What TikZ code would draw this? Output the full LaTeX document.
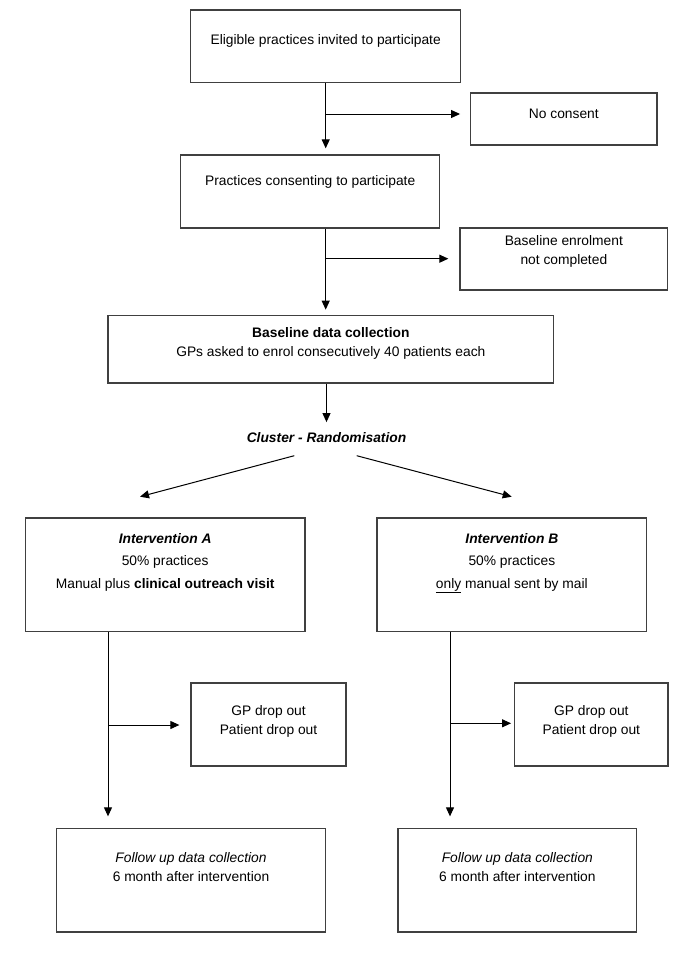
\documentclass[tikz,border=0pt]{standalone}
\usepackage{fontspec}
\setmainfont{Liberation Sans}
\usepackage{xcolor}
\usetikzlibrary{arrows.meta}
\definecolor{BoxLine}{rgb}{0.25, 0.25, 0.25}
\newcommand{\boxtext}[4]{\parbox[c][#2][t]{#1}{\centering\vspace*{#3}#4\par}}
\tikzset{
	flowbox/.style={draw=BoxLine, line width=1.3pt, inner sep=0pt},
	flowarrow/.style={-{Triangle[length=9pt, width=8pt]}, line width=1pt}
}

\begin{document}
\begin{tikzpicture}[x=1pt, y=-1pt, font=\fontsize{13.8}{19}\selectfont]
	\useasboundingbox (0,0) rectangle (685,969);
	\node[flowbox] (invite) at (325.7,46.35) {\boxtext{270pt}{72.7pt}{24pt}{Eligible practices invited to participate}};
	\node[flowbox] (noconsent) at (563.85,119) {\boxtext{186.3pt}{52pt}{16pt}{No consent}};
	\node[flowbox] (consent) at (310.2,191.5) {\boxtext{259pt}{73pt}{20pt}{Practices consenting to participate}};
	\node[flowbox] (notenrol) at (563.85,259) {\boxtext{207.7pt}{62pt}{7.7pt}{Baseline enrolment\\not completed}};
	\node[flowbox] (baseline) at (330.85,349.15) {\boxtext{445.7pt}{67.7pt}{12pt}{\textbf{Baseline data collection}\\GPs asked to enrol consecutively 40 patients each}};
	\node (cluster) at (326.5,437.7) {\textbf{\textit{Cluster - Randomisation}}};
	\node[flowbox] (intA) at (165.15,574.85) {\boxtext{279.7pt}{113.7pt}{15pt}{\textbf{\textit{Intervention A}}\\[3.5pt]50\% practices\\[3.5pt]Manual plus \textbf{clinical outreach visit}}};
	\node[flowbox] (intB) at (511.85,574.85) {\boxtext{269.7pt}{113.7pt}{15pt}{\textbf{\textit{Intervention B}}\\[3.5pt]50\% practices\\[3.5pt]\underline{only} manual sent by mail}};
	\node[flowbox] (dropA) at (268.5,724.5) {\boxtext{155pt}{83pt}{22pt}{GP drop out\\Patient drop out}};
	\node[flowbox] (dropB) at (591.35,724.5) {\boxtext{153.3pt}{83pt}{22pt}{GP drop out\\Patient drop out}};
	\node[flowbox] (followA) at (191,880.35) {\boxtext{269.4pt}{103.3pt}{24pt}{\textit{Follow up data collection}\\6 month after intervention}};
	\node[flowbox] (followB) at (517.35,880.35) {\boxtext{238.7pt}{103.3pt}{24pt}{\textit{Follow up data collection}\\6 month after intervention}};
	\coordinate (j1) at (325.7,114);
	\coordinate (j2) at (325.7,258.7);
	\coordinate (rndL) at (294.3,455.7);
	\coordinate (rndR) at (356.7,455.7);
	\coordinate (armA) at (140,496.7);
	\coordinate (armB) at (511.7,496.7);
	\coordinate (jA) at (108,725);
	\coordinate (jB) at (450,723.3);
	\draw[flowarrow, shorten >=6pt] (invite.south) -- (invite.south |- consent.north);
	\draw[flowarrow, shorten >=10pt] (j1) -- (j1 -| noconsent.west);
	\draw[flowarrow, shorten >=5pt] (consent.south -| invite.south) -- (invite.south |- baseline.north);
	\draw[flowarrow, shorten >=11pt] (j2) -- (j2 -| notenrol.west);
	\draw[flowarrow, shorten >=7pt] (baseline.south -| cluster.north) -- (cluster.north);
	\draw[flowarrow] (rndL) -- (armA);
	\draw[flowarrow] (rndR) -- (armB);
	\draw[flowarrow, shorten >=11.7pt] (intA.south -| jA) -- (jA |- followA.north);
	\draw[flowarrow, shorten >=11pt] (jA) -- (jA -| dropA.west);
	\draw[flowarrow, shorten >=11.7pt] (intB.south -| jB) -- (jB |- followB.north);
	\draw[flowarrow, shorten >=3pt] (jB) -- (jB -| dropB.west);
\end{tikzpicture}
\end{document}
